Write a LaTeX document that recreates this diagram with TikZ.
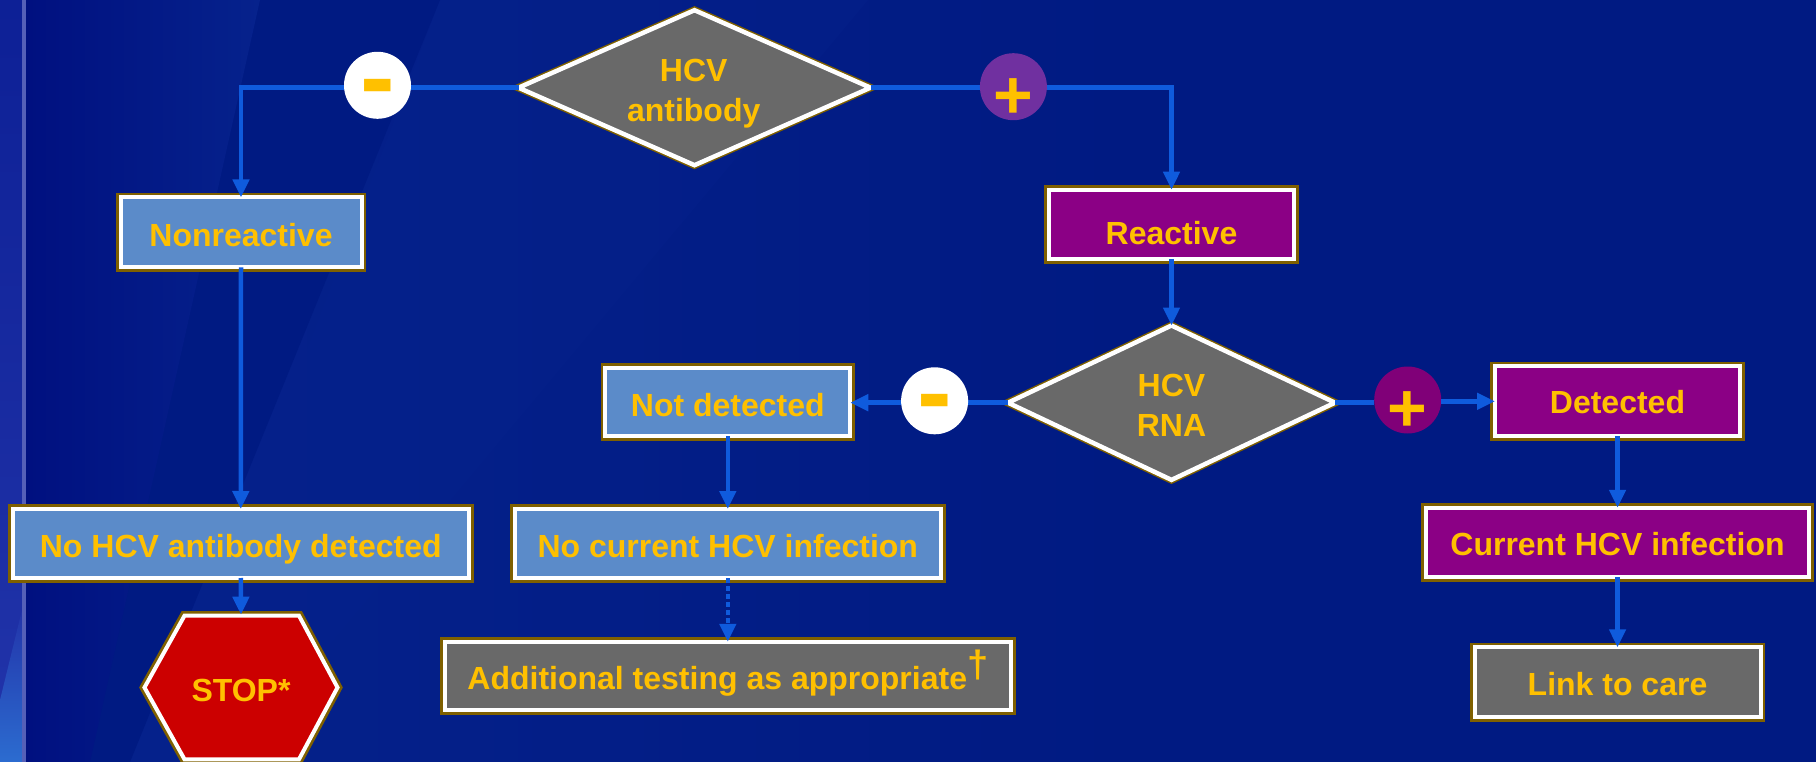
\documentclass[tikz,border=0pt]{standalone}
\usepackage{fontspec}
\setmainfont{Liberation Sans}
\usetikzlibrary{arrows.meta,shapes.geometric}
\definecolor{bgbase}{HTML}{001A82}
\definecolor{bgdark}{HTML}{001080}
\definecolor{bglight}{HTML}{06228C}
\definecolor{stripa}{HTML}{0D2096}
\definecolor{stripb}{HTML}{2234AA}
\definecolor{stripc}{HTML}{2C6CD0}
\definecolor{stripline}{HTML}{5560B8}
\definecolor{edgebrown}{HTML}{7F6000}
\definecolor{labelgold}{HTML}{FFC000}
\definecolor{boxblue}{HTML}{5B8BC9}
\definecolor{boxpurple}{HTML}{8B0085}
\definecolor{boxgray}{HTML}{696969}
\definecolor{stopred}{HTML}{CC0000}
\definecolor{linkblue}{HTML}{0F5BDD}
\definecolor{pluslight}{HTML}{7030A0}
\definecolor{plusdark}{HTML}{800078}
\tikzset{
  outlined/.style={draw=white,line width=4pt,line join=miter,outer sep=0pt,inner sep=0pt,
    preaction={draw=edgebrown,line width=9.4pt}},
  labeltext/.style={text=labelgold,font=\bfseries\fontsize{32}{40}\selectfont},
  capshift/.style={labeltext,text height={23pt+2*#1},text depth=0pt},
  stepbox/.style n args={3}{outlined,rectangle,fill=#1,minimum width=#2,minimum height=#3},
  testdiamond/.style={draw=white,line width=4.5pt,line join=miter,outer sep=0pt,inner sep=0pt,
    preaction={draw=edgebrown,line width=7.5pt},diamond,aspect=2.2,fill=boxgray},
  conn/.style={draw=linkblue,line width=4.5pt,-{Triangle[width=16pt,length=18pt]}},
  connplain/.style={draw=linkblue,line width=4.5pt},
  signdot/.style={circle,fill=#1,minimum size=67pt,inner sep=0pt,text=labelgold},
  minussign/.style={font=\bfseries\fontsize{104}{104}\selectfont},
  plussign/.style={font=\bfseries\fontsize{68}{68}\selectfont}
}
\newcommand{\signglyph}[2]{\makebox[0pt]{\raisebox{-#1}[0pt][0pt]{#2}}}
\begin{document}
\begin{tikzpicture}[x=1pt,y=-1pt]
\useasboundingbox (0,0) rectangle (1816,762);
% background
\fill[bgbase] (0,0) rectangle (1816,762);
\shade[left color=bglight,right color=bgbase] (26,0) rectangle (1150,762);
\fill[bgbase] (440,0) -- (130,762) -- (26,762) -- (26,0) -- cycle;
\shade[left color=bgdark,right color=bglight] (26,0) -- (260,0) -- (90,762) -- (26,762) -- cycle;
\fill[bglight,opacity=.35] (440,0) -- (868,0) -- (232,762) -- (150,762) -- cycle;
\shade[top color=stripa,bottom color=stripb] (0,0) rectangle (22,762);
\shade[bottom color=stripc,top color=stripb] (0,762) -- (22,762) -- (22,610) -- (0,700) -- cycle;
\fill[stripline] (22,0) rectangle (26,762);
% boxes
\node[stepbox={boxblue}{241pt}{70pt},capshift=2.5pt] (nonr) at (241,232.3) {Nonreactive};
\node[stepbox={boxpurple}{245pt}{69.5pt},capshift=8.5pt] (reac) at (1171.5,224.5) {Reactive};
\node[stepbox={boxblue}{245pt}{68.5pt},capshift=2.7pt] (notdet) at (727.8,402) {Not detected};
\node[stepbox={boxblue}{456pt}{69pt},capshift=2pt] (noab) at (240.8,543.5) {No HCV antibody detected};
\node[stepbox={boxblue}{426pt}{69pt},capshift=2pt] (nocur) at (727.8,543.5) {No current HCV infection};
\node[stepbox={boxgray}{566pt}{68pt},capshift=2.3pt] (addl) at (727.8,675.8) {Additional testing as appropriate\raisebox{12pt}{\fontsize{38}{38}\selectfont †}};
\node[stepbox={boxpurple}{245pt}{70pt},capshift=1pt] (det) at (1617.5,401.3) {Detected};
\node[stepbox={boxpurple}{383pt}{69.5pt},capshift=1pt] (cur) at (1617.5,542.5) {Current HCV infection};
\node[stepbox={boxgray}{286pt}{70pt},capshift=2pt] (link) at (1617.5,682.3) {Link to care};
% stop sign
\path[outlined,fill=stopred] (144.5,687.5) -- (184.5,615.7) -- (299,615.7) -- (337.5,687.5) -- (299,759.3) -- (184.5,759.3) -- cycle;
\node[inner sep=0pt,outer sep=0pt,minimum height=145.6pt,capshift=2.5pt] (stop) at (241,687.5) {STOP*};
% decision diamonds
\node[testdiamond,minimum width=352pt,minimum height=155pt] (abtest) at (694.5,87.7) {};
\node[testdiamond,minimum width=327pt,minimum height=154.4pt] (rnatest) at (1171.5,402.7) {};
\node[labeltext,align=center,inner sep=0pt] (abtext) at (693.7,93.5) {HCV\\antibody};
\node[labeltext,align=center,inner sep=0pt] (rnatext) at (1171.5,405.5) {HCV\\RNA};
% connectors
\draw[conn] (abtest.west) -| (nonr.north);
\draw[conn] (abtest.east) -| (reac.north);
\draw[conn] (nonr.south) -- (noab.north);
\draw[conn] (reac.south) -- (rnatest.north);
\draw[conn] (rnatest.west) -- (rnatest.west -| notdet.east);
\draw[conn] (notdet.south) -- (nocur.north);
\draw[conn,dash pattern=on 5pt off 3pt] (nocur.south) -- (addl.north);
\draw[conn] (noab.south) -- (stop.north);
\draw[conn] (det.south) -- (cur.north);
\draw[conn] (cur.south) -- (link.north);
% sign dots
\node[signdot=white,minussign] (minusa) at (377.5,85.3) {\signglyph{27pt}{-}};
\node[signdot=pluslight,plussign] (plusa) at (1013.4,86.7) {\signglyph{31.5pt}{+}};
\node[signdot=white,minussign] (minusb) at (934.6,400.8) {\signglyph{27pt}{-}};
\node[signdot=plusdark,plussign] (plusb) at (1407.7,400) {\signglyph{31.5pt}{+}};
\draw[connplain] (rnatest.east) -- (rnatest.east -| plusb.west);
\draw[conn] (plusb.east |- det.west) -- (det.west);
\end{tikzpicture}
\end{document}
